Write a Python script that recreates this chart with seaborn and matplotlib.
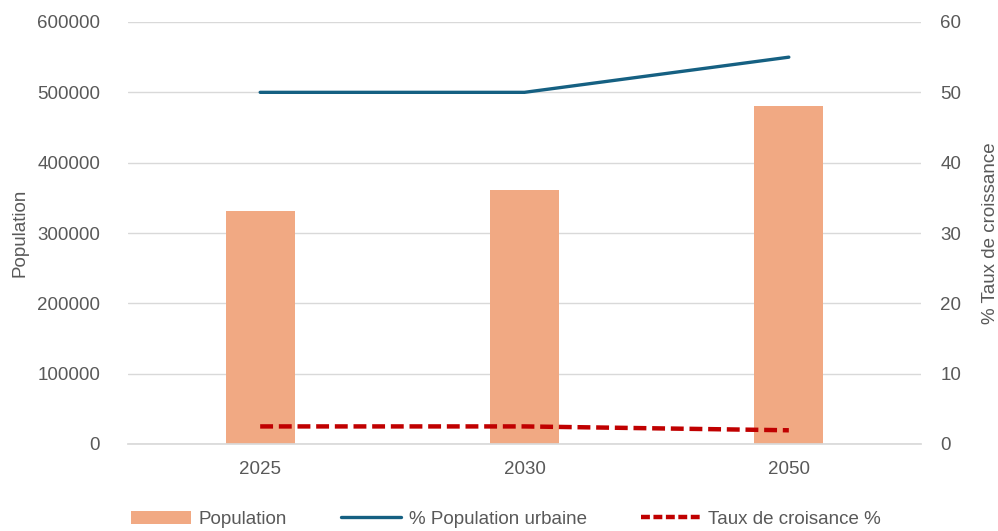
import matplotlib
matplotlib.use("Agg")
import matplotlib.pyplot as plt
import seaborn as sns
import pandas as pd
from matplotlib.patches import Patch
from matplotlib.lines import Line2D

# ---- data ----
years = ["2025", "2030", "2050"]
population = [331000, 361000, 481000]
urban_pct = [50, 50, 55]
growth_pct = [2.5, 2.5, 1.95]

left_ticks = [0, 100000, 200000, 300000, 400000, 500000, 600000]
right_ticks = [0, 10, 20, 30, 40, 50, 60]

df = pd.DataFrame({"Année": years, "Population": population,
                   "Urbaine": urban_pct, "Croissance": growth_pct})

sns.set_theme(style="white")
plt.rcParams["font.family"] = ["Liberation Sans", "DejaVu Sans"]

BAR = "#F1A983"
BLUE = "#156082"
RED = "#C00000"
TXT = "#595959"
GRID = "#D9D9D9"

fig = plt.figure(figsize=(9.98, 5.31), dpi=100)
ax = fig.add_axes([128 / 998, 1 - 444 / 531, (921 - 128) / 998, (444 - 22) / 531])

sns.barplot(data=df, x="Année", y="Population", color=BAR, saturation=1,
            width=0.26, ax=ax, edgecolor="none")
ax.set_ylim(0, 600000)
ax.set_yticks(left_ticks)
ax.set_yticklabels([str(t) for t in left_ticks])
ax.set_xlim(-0.5, 2.5)
ax.grid(axis="y", color=GRID, lw=1)
ax.set_axisbelow(True)
ax.set_xlabel("")
ax.set_ylabel("Population", fontsize=13.5, color=TXT, labelpad=6)
for s in ["left", "right", "top"]:
    ax.spines[s].set_visible(False)
ax.spines["bottom"].set_color(GRID)
ax.tick_params(axis="both", length=0, labelsize=13.5, labelcolor=TXT)
ax.tick_params(axis="y", pad=20)
ax.tick_params(axis="x", pad=12)

ax2 = ax.twinx()
sns.lineplot(data=df, x="Année", y="Urbaine", color=BLUE, lw=2.4,
             sort=False, ax=ax2, legend=False)
sns.lineplot(data=df, x="Année", y="Croissance", color=RED, lw=3.2,
             linestyle=(0, (2.9, 1.3)), sort=False, ax=ax2, legend=False)
ax2.set_ylim(0, 60)
ax2.set_yticks(right_ticks)
ax2.set_yticklabels([str(t) for t in right_ticks])
ax2.set_xlim(-0.5, 2.5)
ax2.set_xlabel("")
ax2.set_ylabel("% Taux de croissance", fontsize=13.5, color=TXT, labelpad=15,
               rotation=90)
for s in ax2.spines.values():
    s.set_visible(False)
ax2.tick_params(axis="y", length=0, labelsize=13.5, labelcolor=TXT, pad=14)

handles = [Patch(facecolor=BAR, edgecolor="none"),
           Line2D([], [], color=BLUE, lw=2.4),
           Line2D([], [], color=RED, lw=3.2, linestyle=(0, (2.0, 0.8)))]
labels = ["Population", "% Population urbaine", "Taux de croisance %"]
leg = fig.legend(handles, labels, loc="center", bbox_to_anchor=(0.507, 0.022),
                 ncol=3, frameon=False, handlelength=3.2,
                 handleheight=0.75, handletextpad=0.4, columnspacing=2.9,
                 prop={"family": ["Liberation Sans", "DejaVu Sans"], "size": 13.5})
for t in leg.get_texts():
    t.set_color(TXT)

fig.savefig("out.png", dpi=100)
